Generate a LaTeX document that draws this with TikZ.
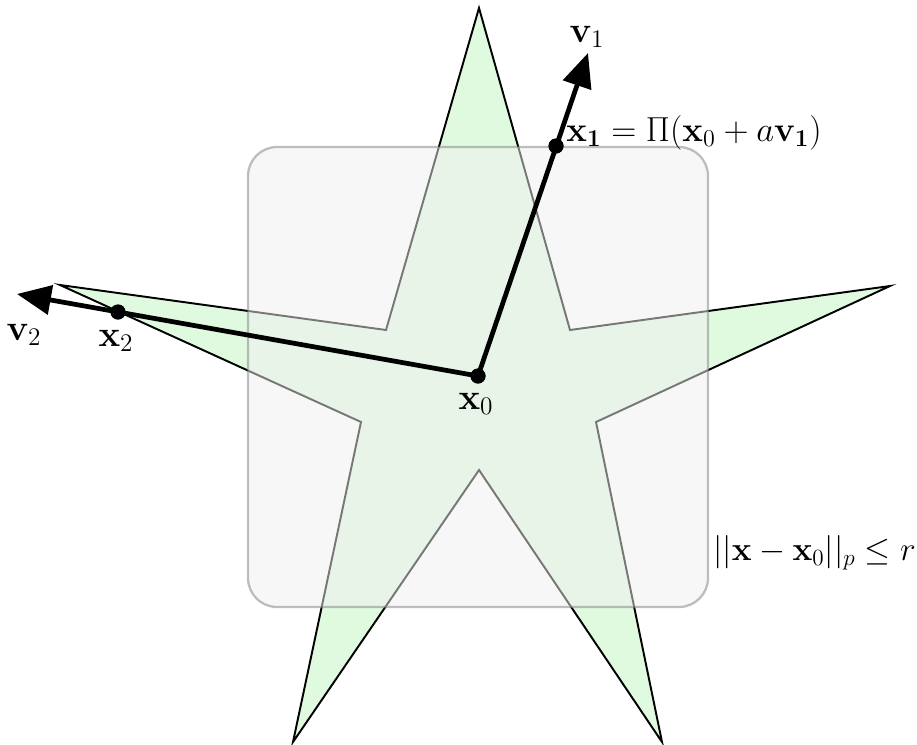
\documentclass[tikz,border=0pt]{standalone}
\usepackage{xcolor}
\usepackage{tikz}
\usepackage{amsmath}
\usepackage{amssymb}
\usetikzlibrary{arrows.meta}
\definecolor{starfill}{HTML}{E0FAE0}
\definecolor{boxfill}{HTML}{EFEFEF}
\definecolor{boxline}{HTML}{808080}

\begin{document}
\begin{tikzpicture}[every node/.style={font=\huge}]
  \useasboundingbox (0,0) rectangle (18.34,14.88);
  % star-shaped set
  \draw[line width=1.1pt, fill=starfill, line join=miter] (9.58,14.72) -- (11.40,8.28) -- (17.80,9.16) -- (11.92,6.44) -- (13.24,0.04) -- (9.58,5.48) -- (5.86,0.04) -- (7.22,6.44) -- (1.20,9.18) -- (7.72,8.28) -- cycle;
  % lp ball
  \draw[line width=1.3pt, boxline, fill=boxfill, opacity=0.5, rounded corners=0.58cm] (4.96,2.74) rectangle (14.16,11.94);

  \node (X0) at (9.56,7.36) [circle, fill=black, inner sep=0pt, minimum size=0.3cm] {};
  \node (X1) at (11.12,11.96) [circle, fill=black, inner sep=0pt, minimum size=0.3cm] {};
  \node (X2) at (2.36,8.64) [circle, fill=black, inner sep=0pt, minimum size=0.3cm] {};
  \coordinate (V1) at (11.76,13.82);
  \coordinate (V2) at (0.34,9.00);

  \draw[line width=2.7pt, -{Triangle[length=0.68cm, width=0.58cm]}] (X0.center) -- (V1);
  \draw[line width=2.7pt, -{Triangle[length=0.68cm, width=0.58cm]}] (X0.center) -- (V2);
  \node at (X0) [circle, fill=black, inner sep=0pt, minimum size=0.3cm] {};
  \node at (X1) [circle, fill=black, inner sep=0pt, minimum size=0.3cm] {};
  \node at (X2) [circle, fill=black, inner sep=0pt, minimum size=0.3cm] {};

  \node (LV1) at (11.74,14.14) {$\mathbf{v}_1$};
  \node (LV2) at (0.48,8.18) {$\mathbf{v}_2$};
  \node (LX0) at (9.52,6.80) {$\mathbf{x}_0$};
  \node (LX2) at (2.32,8.06) {$\mathbf{x}_2$};
  \node (LX1) at (11.32,12.06) [anchor=base west, inner sep=0pt, font=\LARGE, transform shape, scale=1.145] {$\mathbf{x_1} = \Pi(\mathbf{x}_0 + a\mathbf{v_1})$};
  \node (LBall) at (14.26,3.82) [anchor=west, inner sep=0pt, font=\LARGE, transform shape, scale=1.1] {$||\mathbf{x} - \mathbf{x}_0||_p \leq r$};
\end{tikzpicture}
\end{document}
